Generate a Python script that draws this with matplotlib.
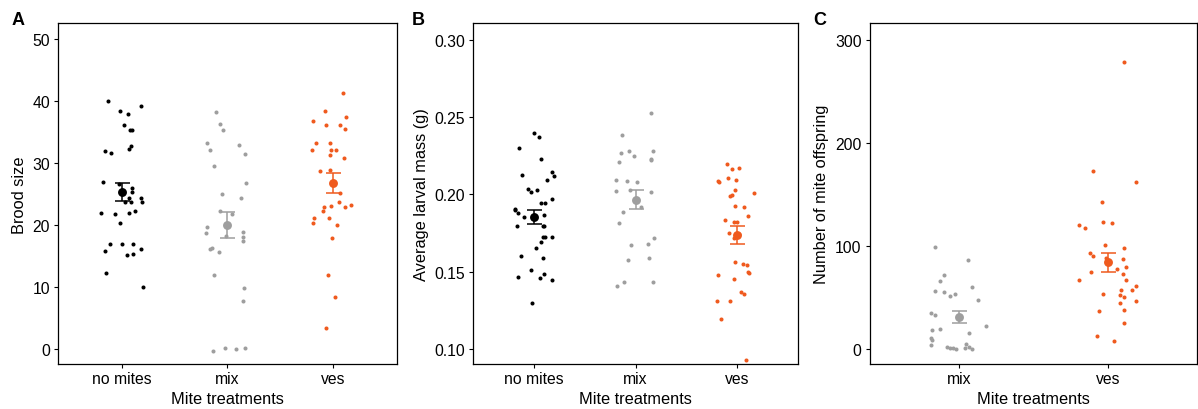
import numpy as np
import matplotlib
matplotlib.use("Agg")
import matplotlib.pyplot as plt

plt.rcParams['font.family'] = ['Liberation Sans', 'DejaVu Sans']

# ---------------- data ----------------
treat_A = ["no mites", "mix", "ves"]
treat_C = ["mix", "ves"]

# Panel A: brood size
brood_nomites = [40.1, 39.2, 38.5, 37.9, 36.2, 35.3, 35.3, 32.8, 32.3, 32.0, 31.7,
                 26.9, 26.7, 26.0, 25.4, 24.3, 23.8, 24.3, 23.8, 23.8, 21.9, 21.8,
                 22.0, 22.3, 20.4, 17.0, 17.0, 17.0, 15.8, 16.2, 15.2, 15.4, 12.2, 10.0]
brood_mix = [38.2, 36.3, 35.4, 33.3, 32.2, 33.0, 31.5, 29.5, 26.8, 25.0, 24.4, 22.3,
             21.8, 18.3, 19.7, 18.7, 18.9, 18.1, 17.4, 16.2, 16.3, 15.7, 12.0, 9.8,
             7.8, -0.4, 0.2, -0.1, 0.2]
brood_ves = [41.3, 38.5, 37.5, 36.8, 36.1, 36.1, 35.5, 33.3, 33.3, 32.1, 32.1, 32.2,
             31.3, 30.8, 28.7, 28.9, 25.1, 23.8, 23.1, 23.3, 22.9, 22.9, 22.2, 21.2,
             21.1, 20.3, 20.0, 17.9, 12.0, 8.4, 3.3]

# Panel B: average larval mass (g)
mass_nomites = [0.2399, 0.2373, 0.2300, 0.2231, 0.2123, 0.2142, 0.2119, 0.2095, 0.2037,
                0.2017, 0.2028, 0.1970, 0.1942, 0.1946, 0.1907, 0.1899, 0.1879, 0.1854,
                0.1869, 0.1795, 0.1797, 0.1795, 0.1726, 0.1726, 0.1722, 0.1694, 0.1651,
                0.1601, 0.1586, 0.1509, 0.1466, 0.1461, 0.1487, 0.1448, 0.1295]
mass_mix = [0.2524, 0.2386, 0.2265, 0.2278, 0.2246, 0.2211, 0.2278, 0.2222, 0.2226,
            0.2091, 0.2089, 0.2080, 0.2024, 0.2026, 0.2017, 0.1920, 0.1888, 0.1817,
            0.1718, 0.1670, 0.1679, 0.1578, 0.1586, 0.1405, 0.1433, 0.1431]
mass_ves = [0.2198, 0.2172, 0.2162, 0.2108, 0.2086, 0.2078, 0.2091, 0.2030, 0.2011,
            0.1987, 0.1994, 0.1923, 0.1921, 0.1862, 0.1834, 0.1823, 0.1823, 0.1752,
            0.1718, 0.1744, 0.1565, 0.1552, 0.1545, 0.1498, 0.1491, 0.1478, 0.1455,
            0.1369, 0.1356, 0.1310, 0.1312, 0.1192, 0.0931]

# Panel C: number of mite offspring
off_mix = [99.2, 86.3, 72.1, 66.0, 60.1, 56.6, 55.3, 51.7, 53.7, 47.2, 35.2, 33.3,
           22.0, 18.4, 19.7, 15.2, 10.7, 9.0, 3.6, 2.2, 1.0, 0.6, 0.3, 0.6, 4.8, 2.3, -0.3]
off_ves = [278.1, 172.3, 161.7, 142.9, 123.2, 122.5, 120.6, 117.4, 100.6, 98.3, 93.4,
           90.2, 88.6, 87.0, 79.5, 77.3, 75.0, 72.4, 67.2, 67.2, 61.1, 57.2, 57.2,
           52.4, 50.8, 53.7, 44.9, 46.2, 37.5, 36.9, 25.5, 12.9, 8.1]

# horizontal jitter (category units)
jit_brood_nomites = [-0.13, 0.18, -0.02, 0.06, 0.02, 0.08, 0.10, 0.09, 0.07, -0.16, -0.10,
                     -0.18, -0.03, 0.10, 0.10, 0.07, 0.09, 0.18, 0.19, 0.03, -0.20, -0.06,
                     0.07, 0.13, -0.02, -0.11, 0.00, 0.11, -0.16, 0.18, 0.05, 0.11, -0.15, 0.20]
jit_brood_mix = [-0.11, -0.07, -0.04, -0.19, -0.16, 0.11, 0.17, -0.13, 0.18, -0.05, 0.13,
                 -0.07, 0.04, -0.01, -0.19, -0.20, 0.15, 0.15, 0.15, -0.16, -0.15, -0.08,
                 -0.13, 0.16, 0.15, -0.14, -0.02, 0.08, 0.17]
jit_brood_ves = [0.09, -0.08, 0.12, -0.19, -0.07, 0.07, 0.11, -0.16, -0.03, -0.20, -0.02,
                 0.03, -0.03, 0.10, -0.12, -0.03, 0.07, 0.06, -0.02, 0.17, 0.11, -0.09,
                 -0.10, -0.04, -0.18, -0.19, 0.04, -0.01, -0.05, 0.02, -0.07]
jit_mass_nomites = [0.00, 0.05, -0.15, 0.07, -0.12, 0.18, 0.20, 0.13, -0.06, -0.03, 0.03,
                    0.18, 0.07, 0.11, -0.19, -0.19, -0.16, -0.10, 0.10, -0.17, 0.09, 0.10,
                    0.09, 0.11, 0.18, 0.07, 0.02, -0.13, 0.09, -0.03, -0.16, 0.06, 0.10,
                    0.18, -0.02]
jit_mass_mix = [0.15, -0.13, -0.14, -0.06, -0.01, -0.16, 0.17, 0.15, 0.15, -0.19, -0.08,
                0.01, -0.19, -0.05, 0.15, 0.05, -0.12, -0.16, 0.18, -0.04, 0.12, -0.07,
                0.13, -0.18, -0.11, 0.17]
jit_mass_ves = [-0.10, 0.02, -0.05, -0.09, -0.19, -0.18, -0.01, -0.02, 0.17, -0.07, -0.05,
                -0.02, 0.07, 0.11, -0.12, -0.03, 0.00, -0.08, -0.03, 0.02, -0.02, 0.06,
                0.10, 0.11, 0.12, -0.19, -0.03, 0.04, 0.07, -0.20, -0.07, -0.16, 0.09]
jit_off_mix = [-0.16, 0.06, -0.10, -0.13, 0.09, -0.16, -0.10, -0.06, -0.03, 0.13, -0.19,
               -0.16, 0.18, -0.18, -0.13, 0.07, -0.19, -0.18, -0.19, -0.08, -0.06, -0.04,
               -0.02, 0.04, 0.05, 0.07, 0.09]
jit_off_ves = [0.11, -0.10, 0.19, -0.04, -0.03, 0.03, -0.19, -0.15, -0.02, 0.11, -0.12,
               -0.10, -0.01, 0.10, 0.12, 0.06, -0.11, 0.10, 0.12, -0.19, 0.19, 0.09, 0.16,
               0.08, 0.11, -0.03, 0.08, 0.19, 0.11, -0.06, 0.11, -0.07, 0.04]

colors = {"no mites": "#000000", "mix": "#9E9E9E", "ves": "#EF5A1E"}

# ---------------- figure ----------------
W, H = 1198, 410
fig = plt.figure(figsize=(W / 100, H / 100), dpi=100)

def px_axes(x0, x1, y0, y1):
    return fig.add_axes([x0 / W, 1 - y1 / H, (x1 - x0) / W, (y1 - y0) / H])

axA = px_axes(58.3, 396.5, 24.3, 365.3)
axB = px_axes(473.3, 797.7, 24.3, 365.3)
axC = px_axes(869.7, 1197.0, 24.3, 365.3)

TICK_FS = 11.3
TITLE_FS = 11.8


def panel(ax, cats, values, jitters, ylim, yticks, yticklabels, ylabel, ylabel_x):
    for i, (cat, vals, jit) in enumerate(zip(cats, values, jitters)):
        vals = np.asarray(vals, float)
        xs = i + 1 + np.asarray(jit, float)
        ax.scatter(xs, vals, s=8.5, color=colors[cat], linewidths=0, zorder=2)
        m = vals.mean()
        se = vals.std(ddof=1) / np.sqrt(len(vals))
        ax.errorbar([i + 1], [m], yerr=[se], fmt='none', ecolor=colors[cat],
                    elinewidth=1.1, capsize=5.4, capthick=1.1, zorder=3)
        ax.plot([i + 1], [m], 'o', color=colors[cat], ms=6.4, mew=0, zorder=4)
    ax.set_xlim(0.4, len(cats) + 0.6)
    ax.set_ylim(*ylim)
    ax.set_xticks(range(1, len(cats) + 1))
    ax.set_xticklabels(cats, fontsize=TICK_FS)
    ax.set_yticks(yticks)
    ax.set_yticklabels(yticklabels, fontsize=TICK_FS)
    ax.tick_params(axis='both', length=2.9, width=0.8, color='black')
    ax.tick_params(axis='x', pad=2.0)
    ax.tick_params(axis='y', pad=3.0)
    for sp in ax.spines.values():
        sp.set_linewidth(0.9)
        sp.set_color('black')
    ax.set_xlabel("Mite treatments", fontsize=TITLE_FS)
    ax.xaxis.set_label_coords(0.5, -0.078)
    ax.set_ylabel(ylabel, fontsize=TITLE_FS)
    ax.yaxis.set_label_coords(ylabel_x, 0.5)


panel(axA, treat_A, [brood_nomites, brood_mix, brood_ves],
      [jit_brood_nomites, jit_brood_mix, jit_brood_ves],
      (-2.5, 52.6), [0, 10, 20, 30, 40, 50], ["0", "10", "20", "30", "40", "50"],
      "Brood size", -0.093)
panel(axB, treat_A, [mass_nomites, mass_mix, mass_ves],
      [jit_mass_nomites, jit_mass_mix, jit_mass_ves],
      (0.0901, 0.3106), [0.10, 0.15, 0.20, 0.25, 0.30],
      ["0.10", "0.15", "0.20", "0.25", "0.30"],
      "Average larval mass (g)", -0.137)
panel(axC, treat_C, [off_mix, off_ves],
      [jit_off_mix, jit_off_ves],
      (-14.9, 315.9), [0, 100, 200, 300], ["0", "100", "200", "300"],
      "Number of mite offspring", -0.124)

for lbl, x in (("A", 12), ("B", 412), ("C", 813)):
    fig.text(x / W, 1 - 25 / H, lbl, fontsize=13, fontweight='bold',
             ha='left', va='baseline')

fig.savefig("out.png", dpi=100)
